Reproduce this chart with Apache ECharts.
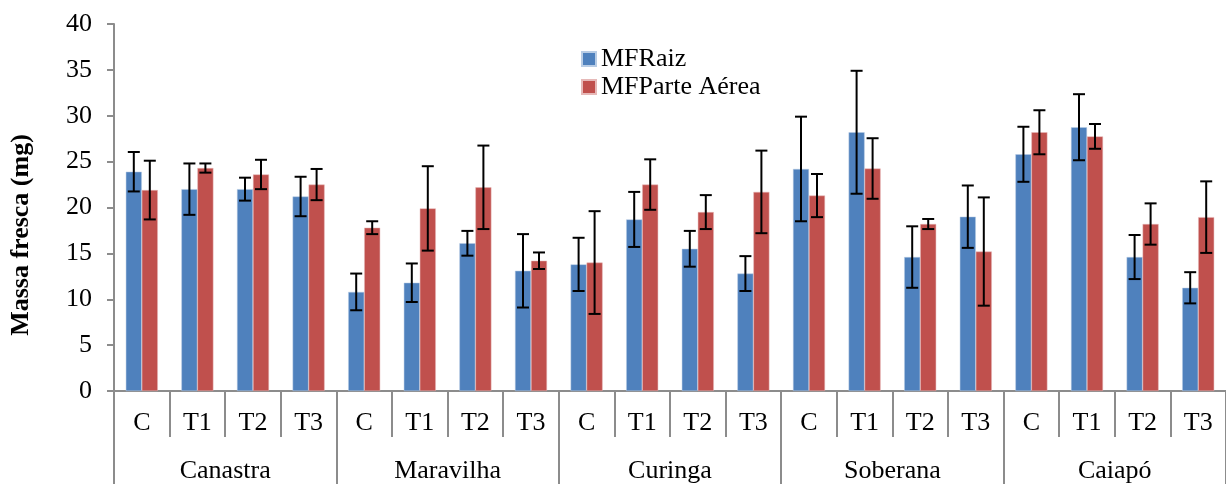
<!DOCTYPE html>
<html>
<head>
<meta charset="utf-8">
<script src="https://cdn.jsdelivr.net/npm/echarts@6/dist/echarts.min.js"></script>
<style>
  html, body { margin: 0; padding: 0; background: #fff; }
  #chart { width: 1226px; height: 484px; }
</style>
</head>
<body>
<div id="chart"></div>
<script>
// dados
const groups = ["Canastra", "Maravilha", "Curinga", "Soberana", "Caiapó"]
const treatments = ["C", "T1", "T2", "T3"]
const categories = groups.flatMap(() => treatments)

const raizVals = [23.9, 22.0, 22.0, 21.2, 10.8, 11.8, 16.1, 13.1, 13.8, 18.7, 15.5, 12.8, 24.2, 28.2, 14.6, 19.0, 25.8, 28.75, 14.6, 11.25]
const raizErr = [2.15, 2.8, 1.25, 2.15, 2.0, 2.1, 1.35, 4.0, 2.9, 3.0, 1.95, 1.9, 5.7, 6.7, 3.35, 3.4, 3.0, 3.6, 2.4, 1.7]
const parteVals = [21.9, 24.3, 23.6, 22.5, 17.8, 19.9, 22.2, 14.2, 14.0, 22.5, 19.5, 21.7, 21.3, 24.25, 18.2, 15.2, 28.2, 27.75, 18.2, 18.95]
const parteErr = [3.2, 0.5, 1.6, 1.7, 0.7, 4.6, 4.55, 0.9, 5.6, 2.75, 1.85, 4.5, 2.35, 3.3, 0.55, 5.9, 2.4, 1.35, 2.25, 3.9]

const yTicks = { min: 0, max: 40, interval: 5 }

const serif = "Liberation Serif"
const axisGray = "#8c8c8c"
const barW = 16

const errData = (vals, errs) => vals.map((v, i) => [i, v - errs[i], v + errs[i]])

// barra de erro desenhada com linhas
const makeErrRender = (shift) => (params, api) => {
    const x = api.value(0)
    const lo = api.coord([x, api.value(1)])
    const hi = api.coord([x, api.value(2)])
    const cx = lo[0] + shift
    const cap = 6
    const style = { stroke: "#000", lineWidth: 2 }
    return {
        type: "group",
        children: [
            { type: "line", shape: { x1: cx, y1: hi[1], x2: cx, y2: lo[1] }, style },
            { type: "line", shape: { x1: cx - cap, y1: hi[1], x2: cx + cap, y2: hi[1] }, style },
            { type: "line", shape: { x1: cx - cap, y1: lo[1], x2: cx + cap, y2: lo[1] }, style }
        ]
    }
}

const chart = echarts.init(document.getElementById("chart"), null, { renderer: "canvas" })

const option = {
    animation: false,
    backgroundColor: "#fff",
    grid: { left: 114, top: 24, width: 1121, height: 370 },
    legend: {
        orient: "vertical",
        left: 576,
        top: 41,
        icon: "rect",
        itemWidth: 14,
        itemHeight: 14,
        itemGap: 2,
        data: ["MFRaiz", "MFParte Aérea"],
        textStyle: { fontFamily: serif, fontSize: 26, color: "#000", lineHeight: 26 }
    },
    xAxis: [
        {
            type: "category",
            data: categories,
            position: "bottom",
            axisLine: { lineStyle: { color: axisGray, width: 2 } },
            axisTick: { show: true, length: 46, interval: 0, lineStyle: { color: axisGray, width: 2 } },
            axisLabel: { interval: 0, margin: 19, fontFamily: serif, fontSize: 26, color: "#000" }
        },
        {
            type: "category",
            data: groups,
            position: "bottom",
            axisLine: { show: false },
            axisTick: { show: true, length: 100, interval: 0, lineStyle: { color: axisGray, width: 2 } },
            axisLabel: { interval: 0, margin: 67, fontFamily: serif, fontSize: 26, color: "#000" }
        }
    ],
    yAxis: {
        type: "value",
        min: yTicks.min,
        max: yTicks.max,
        interval: yTicks.interval,
        name: "Massa fresca (mg)",
        nameLocation: "middle",
        nameGap: 80,
        nameTextStyle: { fontFamily: serif, fontSize: 26, fontWeight: "bold", color: "#000", padding: [0, 55, 0, 0] },
        axisLine: { show: true, lineStyle: { color: axisGray, width: 2 } },
        axisTick: { show: true, length: 7, lineStyle: { color: axisGray, width: 2 } },
        axisLabel: { margin: 22, fontFamily: serif, fontSize: 26, color: "#000" },
        splitLine: { show: false }
    },
    series: [
        {
            name: "MFRaiz",
            type: "bar",
            data: raizVals,
            barWidth: barW,
            barGap: "0%",
            itemStyle: { color: "#4F81BD", borderColor: "#b9cde5", borderWidth: 0.5 }
        },
        {
            name: "MFParte Aérea",
            type: "bar",
            data: parteVals,
            barWidth: barW,
            itemStyle: { color: "#C0504D", borderColor: "#e6b9b8", borderWidth: 0.5 }
        },
        {
            type: "custom",
            data: errData(raizVals, raizErr),
            renderItem: makeErrRender(-barW / 2),
            encode: { x: 0, y: [1, 2] },
            z: 10,
            silent: true
        },
        {
            type: "custom",
            data: errData(parteVals, parteErr),
            renderItem: makeErrRender(barW / 2),
            encode: { x: 0, y: [1, 2] },
            z: 10,
            silent: true
        }
    ]
}

chart.setOption(option)
</script>
</body>
</html>
